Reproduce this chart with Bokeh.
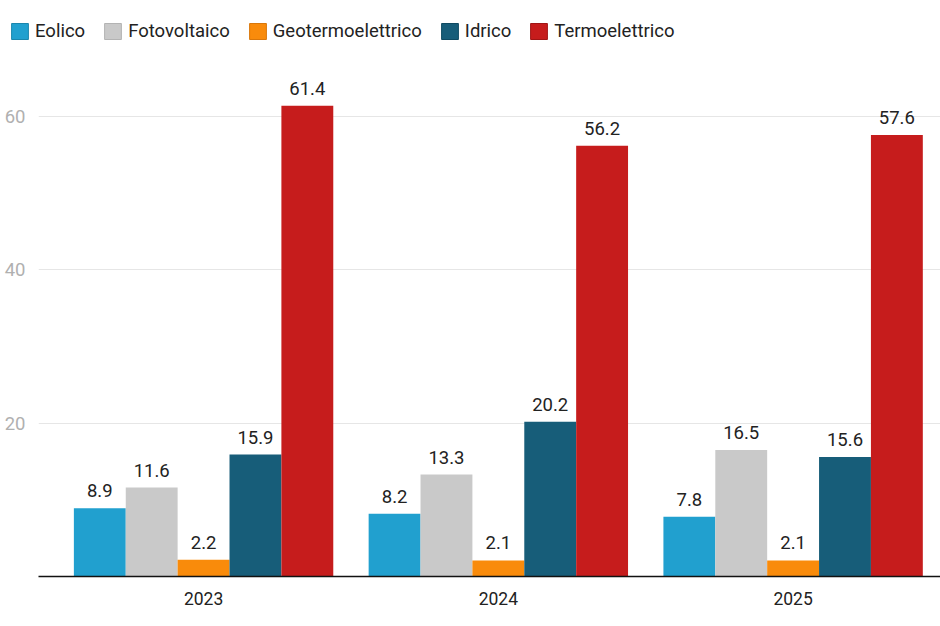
from bokeh.plotting import figure
from bokeh.models import ColumnDataSource, Legend, LegendItem, FixedTicker, LabelSet, Range1d
from bokeh.core.properties import value
from bokeh.embed import file_html
from bokeh.resources import INLINE

years = ["2023", "2024", "2025"]
series = ["Eolico", "Fotovoltaico", "Geotermoelettrico", "Idrico", "Termoelettrico"]
eolico = [8.9, 8.2, 7.8]
fotovoltaico = [11.6, 13.3, 16.5]
geotermoelettrico = [2.2, 2.1, 2.1]
idrico = [15.9, 20.2, 15.6]
termoelettrico = [61.4, 56.2, 57.6]
colors = ["#21a0cf", "#c9c9c9", "#f98b0b", "#175d79", "#c61c1c"]
edge_colors = ["#1a86ad", "#b3b3b3", "#d9770a", "#0f4a62", "#a01515"]
y_ticks = [20, 40, 60]

values = [eolico, fotovoltaico, geotermoelettrico, idrico, termoelettrico]

# Legend strip on top
lg = figure(width=940, height=70, output_backend="svg", toolbar_location=None,
            x_range=Range1d(0, 1), y_range=Range1d(0, 1),
            x_axis_location=None, y_axis_location=None,
            min_border_left=0, min_border_right=0, min_border_top=0, min_border_bottom=0)
lg.grid.grid_line_color = None
lg.outline_line_color = None

p = figure(width=940, height=556, output_backend="svg", toolbar_location=None,
           x_range=Range1d(-0.56, 2.5), y_range=Range1d(0, 66),
           min_border_left=38, min_border_right=0, min_border_top=0, min_border_bottom=50)
p.outline_line_color = None

bw = 0.176
items = []
for i, (name, vals, col, ec) in enumerate(zip(series, values, colors, edge_colors)):
    src = ColumnDataSource(dict(x=[k + (i - 2) * bw for k in range(len(years))], top=vals,
                                lbl=[f"{v:.1f}" for v in vals]))
    p.vbar(x="x", top="top", width=bw, bottom=0, source=src, fill_color=col, line_color=None)
    dummy = lg.rect(x=[-10], y=[-10], width=1, height=1, fill_color=col, line_color=ec,
                    line_width=1)
    items.append(LegendItem(label=name, renderers=[dummy]))
    labels = LabelSet(x="x", y="top", text="lbl", source=src, text_align="center",
                      text_baseline="alphabetic", y_offset=11, text_font=value("Roboto"),
                      text_font_size="18.5px", text_color="#222222")
    p.add_layout(labels)

p.xaxis.ticker = FixedTicker(ticks=list(range(len(years))))
p.xaxis.major_label_overrides = {i: y for i, y in enumerate(years)}
p.xaxis.major_tick_line_color = None
p.xaxis.minor_tick_line_color = None
p.xaxis.axis_line_color = "#111111"
p.xaxis.axis_line_width = 1.5
p.xaxis.major_label_text_font = "Roboto"
p.xaxis.major_label_text_font_size = "17.5px"
p.xaxis.major_label_text_color = "#222222"
p.xaxis.major_label_standoff = 9

p.yaxis.ticker = FixedTicker(ticks=y_ticks)
p.yaxis.axis_line_color = None
p.yaxis.major_tick_line_color = None
p.yaxis.minor_tick_line_color = None
p.yaxis.major_label_text_font = "Roboto"
p.yaxis.major_label_text_font_size = "18.5px"
p.yaxis.major_label_text_color = "#b0b0b0"
p.yaxis.major_label_standoff = 7

p.xgrid.grid_line_color = None
p.ygrid.grid_line_color = "#e6e6e6"
p.ygrid.grid_line_width = 1.2

legend = Legend(items=items, orientation="horizontal", location=(9, 28),
                label_text_font="Roboto", label_text_font_size="18.5px", label_text_color="#222222",
                glyph_width=21, glyph_height=20, spacing=17, label_standoff=5,
                label_height=20, padding=0, margin=0, border_line_color=None,
                background_fill_alpha=0)
lg.add_layout(legend, "center")

open("out.html", "w").write(file_html([lg, p], INLINE))
